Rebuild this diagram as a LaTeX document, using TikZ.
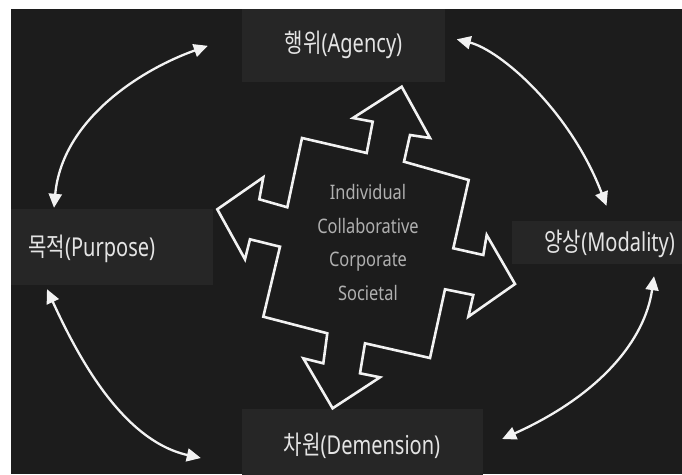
\documentclass[tikz,border=0pt]{standalone}
\usepackage{fontspec}
\setmainfont{Noto Sans}
\newfontfamily\labelfont{Noto Sans}[FakeStretch=0.77]
\newfontfamily\krfont{Noto Sans CJK KR}[FakeStretch=0.77]
\newfontfamily\levelfont{Noto Sans}[FakeStretch=0.82]
\usetikzlibrary{arrows.meta}
\definecolor{panelbg}{HTML}{1C1C1C}
\definecolor{boxbg}{HTML}{262626}
\definecolor{labelfg}{HTML}{E4E4E4}
\definecolor{levelfg}{HTML}{B0B0B0}
\definecolor{linefg}{HTML}{F2F2F2}
\newcommand{\kr}[1]{{\krfont #1}}
\tikzset{
  facet/.style={fill=boxbg, inner sep=0pt, text=labelfg,
    font=\labelfont\fontsize{26}{30}\selectfont, text height=18pt, text depth=0pt},
  level/.style={text=levelfg, font=\levelfont\fontsize{20}{24}\selectfont,
    anchor=base, inner sep=0pt},
  link/.style={linefg, line width=2.3pt,
    {Triangle[length=14pt,width=13pt]}-{Triangle[length=14pt,width=13pt]}},
  star/.style={draw=linefg, line width=2.6pt, line join=miter}
}
\begin{document}
\begin{tikzpicture}[x=1pt, y=-1pt]
    \useasboundingbox (0,0) rectangle (682,474);
    \fill[white] (0,0) rectangle (682,474);
    \fill[panelbg] (11,9) rectangle (682,474);
    %draw facets
    \begin{scope}
        \clip (11,9) rectangle (682,474);
        \node[facet, minimum width=203, minimum height=77.4] (agency) at (343.5,43.3) {\kr{행위}(Agency)};
        \node[facet, minimum width=243, minimum height=76] (purpose) at (91.7,247) {\kr{목적}(Purpose)};
        \node[facet, minimum width=196, minimum height=43] (modality) at (609.7,242.5) {\kr{양상}(Modality)};
        \node[facet, minimum width=241, minimum height=72] (dimension) at (362,445) {\kr{차원}(Demension)};
    \end{scope}
    %draw four-way arrow
    \draw[star] (302,138) -- (366.7,153) -- (372.7,121.7) -- (353,118) -- (401.7,86.7)
        -- (430,138) -- (410,135) -- (404,161.7) -- (468.7,180)
        -- (453.3,248.3) -- (483.3,255) -- (486.7,235) -- (515,284)
        -- (468.3,316.7) -- (473.3,295) -- (445,289.3) -- (430,358)
        -- (365,343.3) -- (360,373.3) -- (380,377.3) -- (332.6,408.3)
        -- (303.3,358.3) -- (323.3,363.3) -- (327.3,333.3) -- (263.3,316.7)
        -- (280,246.7) -- (250,239.3) -- (245,259.3) -- (217.3,209.3)
        -- (263.3,177.3) -- (259.3,199.3) -- (287.3,207.3) -- cycle;
    \foreach \name [count=\i] in {Individual,Collaborative,Corporate,Societal}
        \node[level] (level\i) at (368,{165.8+33.6*\i}) {\name};
    %draw links
    \draw[link] ([shift={(-37.7,-1)}]purpose.north) .. controls (62,120) and (140,70) .. ([shift={(-34,2.5)}]agency.west);
    \draw[link] ([shift={(11.5,-4)}]agency.east) .. controls (500,50) and (570,110) .. ([shift={(-3.2,-15)}]modality.north);
    \draw[link] ([shift={(44.3,12)}]modality.south) .. controls (645,340) and (600,395) .. ([shift={(19.5,-6)}]dimension.east);
    \draw[link] ([shift={(-44.7,4)}]purpose.south) .. controls (75,350) and (120,440) .. ([shift={(-40.5,13)}]dimension.west);
\end{tikzpicture}
\end{document}
